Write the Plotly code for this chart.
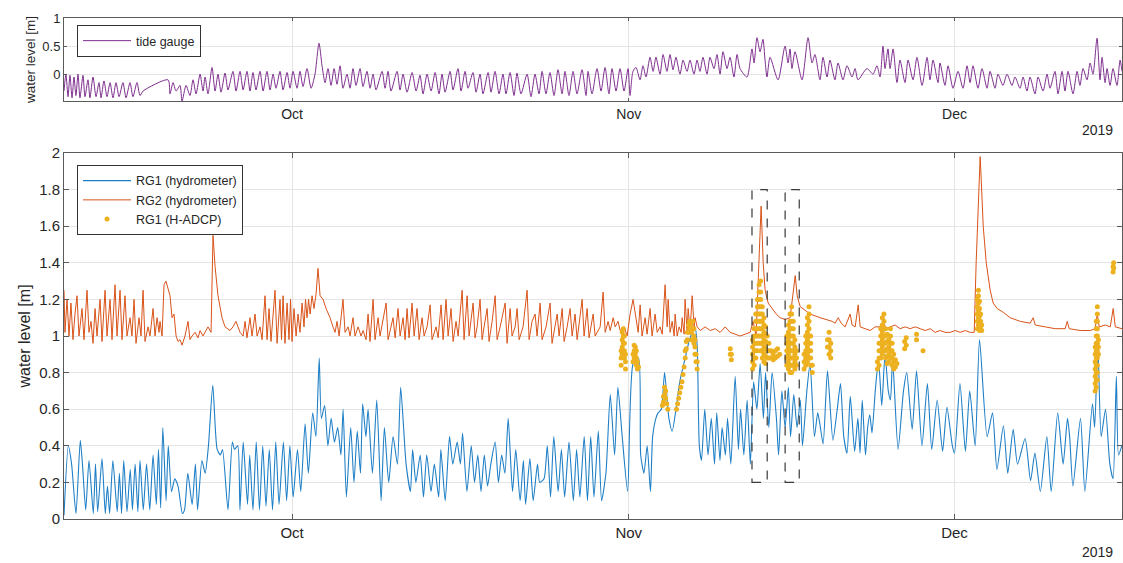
import pandas as pd
import plotly.graph_objects as go

# ---------------- data (days since 2019-09-10, water level [m]) ----------------
START = pd.Timestamp("2019-09-10")
X_END_DAY = 97.42
MONTH_TICKS = ["2019-10-01", "2019-11-01", "2019-12-01"]
MONTH_LABELS = ["Oct", "Nov", "Dec"]
TOP_YTICKS = [0, 0.5, 1]
BOT_YTICKS = [0, 0.2, 0.4, 0.6, 0.8, 1.0, 1.2, 1.4, 1.6, 1.8, 2.0]
BOT_YLABELS = ["0", "0.2", "0.4", "0.6", "0.8", "1", "1.2", "1.4", "1.6", "1.8", "2"]

tide_gauge = [
    (0.0, -0.30), (0.18, 0.00), (0.37, -0.40), (0.55, -0.02), (0.74, -0.42), (0.92, -0.05), (1.10, -0.38),
    (1.29, 0.00), (1.47, -0.42), (1.75, -0.02), (1.93, -0.40), (2.21, -0.10), (2.39, -0.42), (2.67, -0.05),
    (2.95, -0.40), (3.22, -0.15), (3.41, -0.42), (3.68, -0.12), (3.96, -0.40), (4.24, -0.15), (4.51, -0.42),
    (4.79, -0.15), (5.07, -0.40), (5.43, -0.15), (5.71, -0.42), (6.08, -0.15), (6.35, -0.40), (6.72, -0.15),
    (7.00, -0.38), (7.28, -0.30),
    (9.58, -0.10), (9.76, -0.35), (10.04, -0.15), (10.32, -0.30), (10.68, -0.20), (10.87, -0.48), (11.24, -0.20),
    (11.60, -0.38), (11.88, -0.10), (12.16, -0.35), (12.53, 0.00), (12.80, -0.30), (12.99, -0.05), (13.26, -0.35),
    (13.63, 0.12), (13.91, -0.30), (14.18, 0.00), (14.46, -0.32), (14.83, 0.02), (15.10, -0.28), (15.56, 0.05),
    (15.84, -0.30), (16.21, 0.05), (16.49, -0.28), (16.85, 0.05), (17.13, -0.30), (17.40, 0.03), (17.68, -0.28),
    (18.05, 0.05), (18.33, -0.30), (18.69, 0.05), (18.97, -0.28), (19.25, 0.00), (19.52, -0.25), (19.89, 0.05),
    (20.17, -0.28), (20.54, 0.03), (20.81, -0.25), (21.09, 0.05), (21.46, -0.25), (21.73, 0.05), (22.01, -0.22),
    (22.38, 0.10), (22.75, -0.25), (23.11, 0.00), (23.48, 0.55), (23.76, 0.15), (24.04, -0.15), (24.31, 0.10),
    (24.59, -0.20), (24.87, 0.10), (25.14, -0.18), (25.42, 0.15), (25.69, -0.25), (26.06, 0.00), (26.34, -0.25),
    (26.61, 0.10), (26.89, -0.20), (27.26, 0.10), (27.53, -0.22), (27.90, 0.05), (28.18, -0.25), (28.46, 0.00),
    (28.73, -0.28), (29.29, 0.05), (29.56, -0.25), (29.84, 0.05), (30.11, -0.30), (30.67, 0.05), (30.94, -0.28),
    (31.22, 0.00), (31.59, -0.32), (32.05, 0.03), (32.42, -0.30), (32.78, -0.02), (33.06, -0.35), (33.43, 0.00),
    (33.80, -0.30), (34.17, 0.03), (34.53, -0.35), (34.81, 0.00), (35.09, -0.32), (35.55, 0.05), (35.82, -0.28),
    (36.28, 0.10), (36.56, -0.30), (36.93, 0.05), (37.20, -0.25), (37.66, 0.03), (37.94, -0.32), (38.31, 0.00),
    (38.58, -0.35), (39.05, 0.03), (39.32, -0.32), (39.69, 0.05), (40.06, -0.35), (40.42, 0.00), (40.70, -0.35),
    (41.07, 0.03), (41.44, -0.38), (41.71, 0.02), (42.08, -0.35), (42.64, 0.00), (43.00, -0.40), (43.37, 0.00),
    (43.74, -0.35), (44.02, 0.05), (44.38, -0.35), (44.75, 0.03), (45.12, -0.38), (45.49, 0.08), (45.86, -0.35),
    (46.13, 0.05), (46.50, -0.38), (46.87, 0.05), (47.24, -0.35), (47.70, 0.08), (48.07, -0.38), (48.25, 0.05),
    (48.62, -0.35), (49.08, 0.10), (49.45, -0.30), (49.82, 0.12), (50.18, -0.35), (50.46, 0.10), (50.83, -0.30),
    (51.20, 0.10), (51.57, -0.30), (51.94, 0.10), (52.12, -0.38), (52.39, 0.05), (52.67, 0.12), (53.04, -0.10),
    (53.31, 0.15), (53.59, -0.05), (53.96, 0.30), (54.24, 0.05), (54.51, 0.30), (54.88, 0.00), (55.16, 0.35),
    (55.52, 0.05), (55.80, 0.35), (56.08, 0.08), (56.35, 0.30), (56.72, 0.00), (57.00, 0.25), (57.37, 0.05),
    (57.64, 0.25), (58.01, 0.00), (58.29, 0.25), (58.56, 0.05), (58.84, 0.30), (59.21, 0.00), (59.48, 0.30),
    (59.85, 0.10), (60.13, 0.35), (60.41, 0.00), (60.68, 0.40), (61.05, 0.10), (61.33, 0.30), (61.69, -0.05),
    (61.97, 0.35), (62.25, 0.10), (62.89, -0.05), (63.35, 0.45), (63.54, 0.20), (63.81, 0.65), (64.09, 0.40),
    (64.36, 0.62), (64.55, 0.25), (64.73, -0.05), (65.01, 0.30), (65.75, -0.10), (66.39, 0.50), (66.67, 0.20),
    (66.85, 0.45), (67.03, 0.10), (67.31, 0.40), (67.96, -0.10), (68.51, 0.65), (68.88, 0.20), (69.15, 0.35),
    (69.61, -0.10), (69.89, 0.30), (70.26, -0.05), (70.53, 0.25), (70.99, -0.10), (71.27, 0.20), (71.73, -0.10),
    (72.10, 0.15), (72.56, -0.05), (72.84, 0.10), (73.11, -0.10), (73.94, 0.10), (74.49, 0.00), (74.86, 0.15),
    (75.14, -0.05), (75.41, 0.50), (75.60, 0.10), (75.87, 0.45), (76.06, 0.10), (76.34, 0.45), (76.70, -0.15),
    (76.98, 0.25), (77.44, -0.15), (77.72, 0.25), (78.18, -0.10), (78.54, 0.30), (79.01, -0.20), (79.47, 0.30),
    (79.74, -0.10), (80.02, 0.25), (80.48, -0.15), (80.66, 0.20), (81.12, -0.20), (81.40, 0.15), (81.86, -0.25),
    (82.32, 0.05), (82.78, -0.25), (83.15, 0.15), (83.43, -0.15), (83.70, 0.15), (84.16, -0.25), (84.53, 0.10),
    (84.99, -0.25), (85.27, 0.05), (85.73, -0.25), (86.00, 0.00), (86.46, -0.20), (86.83, 0.00), (87.29, -0.20),
    (87.57, -0.05), (88.03, -0.25), (88.31, -0.05), (88.67, -0.30), (88.95, -0.05), (89.41, -0.35), (89.69, -0.05),
    (90.15, -0.30), (90.52, 0.00), (90.79, -0.25), (91.25, 0.05), (91.53, -0.35), (91.90, 0.05), (92.17, -0.30),
    (92.45, 0.05), (92.91, -0.35), (93.28, 0.05), (93.55, -0.20), (93.83, 0.10), (94.20, -0.10), (94.48, 0.20),
    (94.75, 0.00), (95.12, 0.64), (95.40, -0.10), (95.58, 0.30), (95.86, -0.15), (96.04, 0.10), (96.32, -0.20),
    (96.59, 0.10), (96.96, -0.20), (97.24, 0.25), (97.42, 0.05),
]

rg1_hydrometer = [
    (0.0, 0.02), (0.4, 0.40), (0.7, 0.30), (1.1, 0.03), (1.5, 0.43), (1.7, 0.30), (2.0, 0.05), (2.3, 0.32),
    (2.7, 0.03), (2.9, 0.30), (3.1, 0.04), (3.5, 0.33), (3.8, 0.03), (4.0, 0.18), (4.2, 0.03), (4.5, 0.32),
    (4.9, 0.04), (5.1, 0.25), (5.3, 0.03), (5.5, 0.32), (5.8, 0.04), (6.1, 0.27), (6.3, 0.05), (6.55, 0.30),
    (6.8, 0.04), (7.0, 0.32), (7.3, 0.05), (7.6, 0.30), (7.9, 0.05), (8.2, 0.35), (8.5, 0.08), (8.7, 0.38),
    (8.9, 0.06), (9.1, 0.50), (9.4, 0.10), (9.6, 0.40), (9.9, 0.15), (10.2, 0.22), (10.5, 0.18), (10.9, 0.03),
    (11.1, 0.05), (11.4, 0.25), (11.8, 0.08), (12.1, 0.30), (12.3, 0.05), (12.7, 0.32), (13.0, 0.25), (13.3, 0.40),
    (13.7, 0.73), (14.1, 0.38), (14.4, 0.35), (14.6, 0.38), (15.1, 0.05), (15.5, 0.42), (15.7, 0.38), (16.0, 0.40),
    (16.2, 0.05), (16.5, 0.42), (16.9, 0.08), (17.1, 0.35), (17.4, 0.05), (17.7, 0.42), (18.0, 0.05), (18.3, 0.40),
    (18.6, 0.07), (18.9, 0.38), (19.2, 0.05), (19.5, 0.42), (19.8, 0.08), (20.2, 0.42), (20.5, 0.10), (20.8, 0.40),
    (21.1, 0.12), (21.5, 0.38), (21.8, 0.15), (22.2, 0.52), (22.5, 0.25), (22.9, 0.58), (23.2, 0.45), (23.5, 0.88),
    (23.7, 0.55), (24.0, 0.62), (24.3, 0.40), (24.6, 0.55), (24.9, 0.42), (25.2, 0.50), (25.5, 0.35), (25.7, 0.60),
    (26.0, 0.12), (26.4, 0.50), (26.7, 0.20), (27.0, 0.48), (27.3, 0.25), (27.5, 0.63), (27.8, 0.45), (28.0, 0.60),
    (28.4, 0.25), (28.8, 0.65), (29.2, 0.10), (29.5, 0.50), (29.9, 0.20), (30.3, 0.45), (30.7, 0.30), (31.0, 0.72),
    (31.5, 0.30), (31.9, 0.15), (32.1, 0.38), (32.4, 0.20), (32.8, 0.35), (33.1, 0.12), (33.4, 0.35), (33.8, 0.15),
    (34.1, 0.30), (34.5, 0.12), (34.7, 0.38), (35.1, 0.10), (35.5, 0.45), (35.8, 0.30), (36.2, 0.42), (36.5, 0.30),
    (36.7, 0.47), (37.1, 0.15), (37.5, 0.40), (37.8, 0.20), (38.1, 0.35), (38.4, 0.15), (38.7, 0.35), (39.0, 0.18),
    (39.3, 0.30), (39.7, 0.42), (40.0, 0.20), (40.3, 0.35), (40.6, 0.25), (40.9, 0.55), (41.3, 0.15), (41.6, 0.38),
    (42.0, 0.10), (42.3, 0.32), (42.5, 0.08), (42.9, 0.33), (43.2, 0.10), (43.6, 0.30), (43.8, 0.20), (44.2, 0.22),
    (44.5, 0.40), (44.8, 0.12), (45.1, 0.45), (45.5, 0.15), (45.8, 0.38), (46.1, 0.12), (46.5, 0.42), (46.9, 0.10),
    (47.2, 0.38), (47.5, 0.12), (47.9, 0.45), (48.2, 0.10), (48.5, 0.45), (48.8, 0.12), (49.2, 0.48), (49.5, 0.10),
    (49.9, 0.25), (50.3, 0.68), (50.7, 0.35), (51.0, 0.72), (51.4, 0.45), (51.9, 0.15), (52.4, 0.85), (52.9, 0.88),
    (53.1, 0.35), (53.4, 0.25), (53.7, 0.40), (54.0, 0.15), (54.2, 0.45), (54.5, 0.55), (54.7, 0.58), (55.0, 0.60),
    (55.3, 0.80), (55.7, 0.55), (56.0, 0.48), (56.4, 0.62), (56.7, 0.75), (57.2, 0.88), (57.6, 0.98), (58.1, 1.05),
    (58.3, 0.95), (58.5, 0.40), (58.7, 0.32), (59.0, 0.60), (59.3, 0.35), (59.6, 0.55), (59.9, 0.30), (60.1, 0.58),
    (60.4, 0.32), (60.6, 0.50), (60.9, 0.35), (61.1, 0.55), (61.4, 0.30), (61.8, 0.78), (62.1, 0.38), (62.3, 0.60),
    (62.6, 0.35), (62.9, 0.65), (63.2, 0.30), (63.5, 0.75), (63.8, 0.60), (64.1, 0.85), (64.4, 0.55), (64.6, 0.80),
    (64.9, 0.50), (65.2, 0.80), (65.6, 0.55), (65.8, 0.35), (66.1, 0.70), (66.4, 0.50), (66.7, 0.72), (66.9, 0.45),
    (67.2, 0.68), (67.5, 0.50), (67.8, 0.65), (68.0, 0.40), (68.4, 0.70), (68.7, 0.85), (69.1, 0.45), (69.4, 0.58),
    (69.6, 0.52), (69.9, 0.41), (70.3, 0.81), (70.8, 0.43), (71.2, 0.60), (71.5, 0.74), (71.8, 0.45), (72.1, 0.36),
    (72.4, 0.67), (72.8, 0.37), (73.1, 0.55), (73.3, 0.36), (73.5, 0.65), (73.8, 0.35), (74.0, 0.50), (74.2, 0.57),
    (74.4, 0.47), (74.7, 0.70), (75.0, 0.87), (75.3, 0.62), (75.6, 0.90), (75.9, 0.70), (76.1, 0.65), (76.3, 0.87),
    (76.8, 0.38), (77.3, 0.70), (77.6, 0.80), (78.1, 0.49), (78.5, 0.81), (79.0, 0.40), (79.5, 0.74), (79.9, 0.38),
    (80.4, 0.65), (80.9, 0.37), (81.3, 0.61), (81.8, 0.40), (82.0, 0.36), (82.5, 0.74), (83.0, 0.37), (83.4, 0.70),
    (83.9, 0.40), (84.3, 0.98), (85.0, 0.45), (85.5, 0.58), (85.9, 0.27), (86.5, 0.51), (86.9, 0.25), (87.4, 0.49),
    (87.8, 0.30), (88.5, 0.44), (89.0, 0.21), (89.4, 0.36), (89.9, 0.15), (90.5, 0.45), (90.9, 0.15), (91.5, 0.58),
    (92.0, 0.30), (92.4, 0.55), (92.6, 0.45), (92.9, 0.18), (93.6, 0.55), (94.0, 0.15), (94.7, 0.63), (94.9, 0.50),
    (95.2, 0.95), (95.5, 0.45), (95.9, 0.60), (96.3, 0.30), (96.6, 0.22), (96.9, 0.78), (97.1, 0.35), (97.4, 0.40),
]

rg2_hydrometer = [
    (0.0, 1.25), (0.09, 1.02), (0.28, 1.20), (0.46, 1.00), (0.64, 1.18), (0.83, 0.98), (1.01, 1.12), (1.20, 1.22),
    (1.38, 1.00), (1.66, 1.15), (1.84, 0.98), (2.12, 1.25), (2.30, 1.02), (2.49, 1.08), (2.67, 0.96), (2.86, 1.15),
    (3.04, 1.00), (3.32, 1.20), (3.50, 0.97), (3.78, 1.25), (3.96, 1.00), (4.24, 1.20), (4.42, 0.98), (4.70, 1.28),
    (4.88, 1.00), (5.16, 1.25), (5.34, 0.98), (5.62, 1.22), (5.80, 1.00), (6.08, 1.10), (6.26, 1.00), (6.45, 1.20),
    (6.63, 0.96), (6.91, 1.10), (7.09, 1.00), (7.28, 1.25), (7.46, 0.97), (7.74, 1.05), (7.92, 1.00), (8.20, 1.15),
    (8.38, 1.00), (8.57, 1.10), (8.75, 1.02), (8.84, 1.08), (9.03, 1.00), (9.21, 1.28), (9.39, 1.30), (9.58, 1.25),
    (9.76, 1.22), (9.95, 1.10), (10.13, 1.12), (10.32, 1.00), (10.50, 0.97), (10.68, 0.98), (10.87, 0.95),
    (11.14, 1.00), (11.42, 1.08), (11.60, 0.98), (11.79, 1.00), (12.07, 1.02), (12.34, 0.99), (12.53, 1.03),
    (12.80, 1.00), (13.26, 1.05), (13.54, 1.02), (13.72, 1.55), (13.91, 1.38), (14.18, 1.22), (14.55, 1.10),
    (14.83, 1.05), (15.29, 1.03), (15.56, 1.05), (15.84, 1.08), (16.21, 1.02), (16.49, 1.00), (16.67, 1.08),
    (16.85, 0.99), (17.13, 1.10), (17.31, 1.00), (17.59, 1.12), (17.78, 1.00), (18.05, 1.05), (18.24, 0.98),
    (18.51, 1.22), (18.70, 0.98), (18.88, 1.15), (19.06, 0.97), (19.43, 1.25), (19.62, 0.96), (19.89, 1.20),
    (20.03, 0.98), (20.17, 1.22), (20.35, 0.96), (20.54, 1.18), (20.72, 0.98), (20.86, 1.20), (21.00, 0.97),
    (21.18, 1.15), (21.37, 1.00), (21.55, 1.12), (21.73, 1.02), (21.92, 1.18), (22.10, 1.05), (22.24, 1.20),
    (22.38, 1.10), (22.52, 1.20), (22.66, 1.12), (22.84, 1.22), (23.02, 1.15), (23.21, 1.23), (23.39, 1.37),
    (23.58, 1.22), (23.85, 1.20), (24.13, 1.15), (24.50, 1.10), (24.77, 1.05), (24.96, 1.02), (25.14, 1.08),
    (25.33, 1.00), (25.69, 1.20), (25.88, 1.02), (26.16, 1.05), (26.34, 1.00), (26.61, 1.10), (26.80, 1.00),
    (27.08, 1.05), (27.35, 1.00), (27.54, 1.03), (27.81, 0.98), (28.00, 1.12), (28.18, 0.97), (28.46, 1.20),
    (28.64, 0.98), (28.92, 1.10), (29.10, 1.00), (29.66, 1.18), (29.84, 0.98), (30.30, 1.10), (30.49, 0.99),
    (30.76, 1.15), (30.95, 1.00), (31.22, 1.10), (31.41, 0.98), (31.59, 1.15), (31.77, 0.99), (32.05, 1.18),
    (32.24, 1.00), (32.51, 1.15), (32.70, 0.98), (32.97, 1.10), (33.16, 1.00), (33.43, 1.05), (33.71, 1.17),
    (33.89, 0.98), (34.26, 1.05), (34.45, 0.99), (34.72, 1.17), (34.91, 0.98), (35.18, 1.20), (35.37, 1.00),
    (35.64, 1.15), (35.83, 0.97), (36.10, 1.08), (36.29, 1.00), (36.66, 1.25), (36.84, 0.98), (37.12, 1.22),
    (37.30, 1.00), (37.67, 1.18), (37.85, 0.99), (38.04, 1.05), (38.31, 1.20), (38.50, 0.98), (38.68, 1.05),
    (38.96, 1.15), (39.14, 0.97), (39.42, 1.08), (39.70, 1.22), (39.88, 0.98), (40.16, 1.05), (40.62, 1.18),
    (40.80, 0.96), (41.08, 1.15), (41.26, 1.00), (41.54, 1.05), (41.72, 1.15), (41.91, 0.98), (42.27, 1.05),
    (42.64, 1.25), (42.83, 0.98), (43.10, 1.08), (43.38, 1.12), (43.56, 1.00), (43.84, 1.18), (44.02, 0.98),
    (44.39, 1.05), (44.76, 1.18), (44.94, 0.96), (45.22, 1.05), (45.41, 1.12), (45.59, 1.00), (45.87, 1.15),
    (46.05, 0.97), (46.33, 1.05), (46.60, 1.15), (46.79, 1.00), (47.06, 1.12), (47.25, 0.98), (47.71, 1.20),
    (47.89, 1.00), (48.17, 1.15), (48.35, 0.99), (48.72, 1.12), (48.91, 1.00), (49.37, 1.05), (49.64, 1.24),
    (49.83, 1.02), (50.10, 1.08), (50.29, 1.03), (50.57, 1.10), (50.75, 1.05), (51.02, 1.08), (51.21, 1.03),
    (51.58, 1.05), (51.85, 1.00), (52.13, 1.12), (52.40, 1.20), (52.68, 1.08), (52.87, 1.02), (53.05, 1.17),
    (53.23, 1.00), (53.51, 1.10), (53.69, 1.01), (53.97, 1.15), (54.15, 1.00), (54.43, 1.12), (54.62, 1.02),
    (54.89, 1.05), (55.08, 1.01), (55.35, 1.28), (55.54, 1.05), (55.63, 1.20), (55.81, 1.02), (56.00, 1.08),
    (56.18, 1.00), (56.27, 1.12), (56.46, 1.00), (56.64, 1.05), (56.83, 1.02), (56.92, 1.10), (57.10, 1.01),
    (57.19, 1.20), (57.38, 1.02), (57.47, 1.15), (57.65, 1.03), (57.84, 1.22), (58.02, 1.05), (58.11, 1.10),
    (58.30, 1.05), (58.58, 1.03), (59.04, 1.05), (59.50, 1.03), (59.96, 1.04), (60.42, 1.02), (60.88, 1.05),
    (61.34, 1.02), (61.80, 1.01), (62.26, 1.00), (62.72, 1.01), (63.18, 1.02), (63.46, 1.08), (63.73, 1.00),
    (63.92, 1.30), (64.19, 1.71), (64.38, 1.40), (64.56, 1.25), (64.84, 1.18), (65.21, 1.15), (65.58, 1.12),
    (65.94, 1.10), (66.40, 1.09), (66.86, 1.10), (67.14, 1.25), (67.33, 1.33), (67.51, 1.22), (67.79, 1.16),
    (68.25, 1.14), (68.71, 1.12), (69.63, 1.10), (70.27, 1.09), (70.73, 1.08), (71.01, 1.07), (71.29, 1.10),
    (71.56, 1.07), (71.93, 1.05), (72.39, 1.12), (72.57, 1.06), (72.85, 1.05), (73.13, 1.17), (73.31, 1.05),
    (73.77, 1.04), (74.23, 1.03), (74.69, 1.05), (75.15, 1.05), (75.43, 1.08), (75.70, 1.04), (76.07, 1.05),
    (76.53, 1.06), (76.99, 1.04), (77.45, 1.05), (77.92, 1.04), (78.38, 1.05), (78.84, 1.04), (79.30, 1.03),
    (79.76, 1.04), (80.22, 1.02), (80.68, 1.03), (81.14, 1.02), (81.60, 1.02), (82.06, 1.03), (82.52, 1.02),
    (82.98, 1.03), (83.44, 1.02), (83.81, 1.02), (83.99, 1.40), (84.18, 1.75), (84.36, 1.98), (84.46, 1.85),
    (84.64, 1.60), (84.92, 1.40), (85.10, 1.32), (85.28, 1.25), (85.56, 1.18), (85.93, 1.15), (86.48, 1.13),
    (87.12, 1.10), (88.05, 1.08), (88.97, 1.07), (89.24, 1.10), (89.43, 1.06), (90.35, 1.05), (91.27, 1.04),
    (92.19, 1.04), (92.38, 1.08), (92.56, 1.04), (93.57, 1.03), (94.49, 1.03), (94.95, 1.04), (95.14, 1.12),
    (95.32, 1.05), (95.88, 1.06), (96.34, 1.05), (96.61, 1.15), (96.80, 1.05), (97.42, 1.04),
]

# H-ADCP samples: (day, [levels observed at that time])
rg1_hadcp = [
    (51.3, [0.84, 0.88, 0.92]), (51.4, [0.90, 0.94, 0.98, 1.02]), (51.5, [0.96, 1.00, 1.04]),
    (51.6, [0.88, 0.92, 0.96, 1.00]), (51.7, [0.82, 0.86, 0.90]),
    (52.4, [0.86, 0.90]), (52.5, [0.88, 0.92, 0.95]), (52.6, [0.86, 0.90, 0.94]), (52.7, [0.84, 0.88, 0.92]),
    (52.8, [0.82, 0.86]), (52.9, [0.83]),
    (55.1, [0.62]), (55.2, [0.64, 0.67]), (55.3, [0.68, 0.72]), (55.4, [0.66, 0.70]), (55.5, [0.63]), (55.6, [0.60]),
    (56.4, [0.60]), (56.5, [0.63]), (56.6, [0.66]), (56.7, [0.69]), (56.8, [0.72]), (56.9, [0.75]), (57.0, [0.79]),
    (57.1, [0.83]), (57.2, [0.88, 0.92]), (57.3, [0.93, 0.97]), (57.4, [0.98, 1.02]), (57.5, [1.02, 1.06]),
    (57.6, [1.04, 1.08]), (57.7, [1.02, 1.06]), (57.8, [0.98, 1.02]), (57.9, [1.04, 1.08]), (58.0, [0.96, 1.00, 1.04]),
    (58.1, [0.90, 0.94, 0.98]), (58.2, [0.86, 0.90]), (58.3, [0.82, 0.86]),
    (61.35, [0.90, 0.93]), (61.45, [0.87, 0.90]),
    (63.4, [0.82, 0.86, 0.90, 0.94, 0.98]), (63.55, [0.84, 0.88, 0.92, 0.96, 1.00, 1.04]),
    (63.7, [0.88, 0.92, 0.96, 1.00, 1.04, 1.08, 1.12]), (63.85, [0.92, 0.96, 1.00, 1.04, 1.08, 1.12, 1.16, 1.20]),
    (64.0, [0.96, 1.00, 1.04, 1.08, 1.12, 1.16, 1.20, 1.24, 1.28]),
    (64.15, [0.92, 0.96, 1.00, 1.04, 1.08, 1.12, 1.16, 1.20, 1.24, 1.30]),
    (64.3, [0.88, 0.92, 0.96, 1.00, 1.04, 1.08, 1.12, 1.16]), (64.45, [0.86, 0.90, 0.94, 0.98, 1.02, 1.06, 1.10]),
    (64.6, [0.85, 0.89, 0.93, 0.97, 1.01, 1.05]), (64.75, [0.88, 0.92, 0.96, 1.00]), (64.9, [0.88, 0.92, 0.96]),
    (65.1, [0.88, 0.92]), (65.3, [0.87, 0.90]), (65.5, [0.88, 0.92]), (65.7, [0.89, 0.93]), (65.9, [0.90]),
    (66.55, [0.84, 0.88, 0.92, 0.96, 1.00]), (66.7, [0.82, 0.86, 0.90, 0.94, 0.98, 1.02, 1.06]),
    (66.85, [0.80, 0.84, 0.88, 0.92, 0.96, 1.00, 1.04, 1.08, 1.12]),
    (67.0, [0.80, 0.84, 0.88, 0.92, 0.96, 1.00, 1.04, 1.08, 1.12, 1.16]),
    (67.15, [0.84, 0.88, 0.92, 0.96, 1.00, 1.04, 1.08]), (67.3, [0.82, 0.86, 0.90, 0.94, 0.98]),
    (67.45, [0.84, 0.88, 0.92]),
    (68.15, [0.82, 0.86, 0.90]), (68.3, [0.84, 0.88, 0.92, 0.96, 1.00]),
    (68.45, [0.86, 0.90, 0.94, 0.98, 1.02, 1.06, 1.10]), (68.6, [0.88, 0.92, 0.96, 1.00, 1.04, 1.08, 1.12, 1.16]),
    (68.75, [0.84, 0.88, 0.92, 0.96, 1.00]), (68.9, [0.80, 0.84]),
    (70.3, [0.94, 0.98]), (70.45, [0.90, 0.94, 0.98, 1.02]), (70.6, [0.88, 0.92, 0.96]),
    (74.9, [0.82, 0.86]), (75.05, [0.84, 0.88, 0.92, 0.96]), (75.2, [0.88, 0.92, 0.96, 1.00, 1.04]),
    (75.35, [0.90, 0.94, 0.98, 1.02, 1.06, 1.10]), (75.5, [0.92, 0.96, 1.00, 1.04, 1.08, 1.12]),
    (75.65, [0.88, 0.92, 0.96, 1.00, 1.04]), (75.8, [0.85, 0.89, 0.93, 0.97, 1.01]), (75.95, [0.86, 0.90, 0.94, 0.98]),
    (76.1, [0.88, 0.92, 0.96, 1.00, 1.04]), (76.25, [0.84, 0.88, 0.92, 0.96]), (76.4, [0.82, 0.86, 0.90]),
    (76.55, [0.83, 0.87]), (76.7, [0.85]),
    (77.4, [0.93, 0.97]), (77.55, [0.95, 0.99]), (78.5, [0.98, 1.01]), (79.1, [0.92]),
    (84.1, [1.04, 1.08, 1.12, 1.16, 1.20]), (84.2, [1.06, 1.10, 1.14, 1.18, 1.22, 1.25]),
    (84.3, [1.03, 1.07, 1.11, 1.15, 1.19]), (84.4, [1.04, 1.08, 1.12]), (84.5, [1.03, 1.06]),
    (94.95, [0.70, 0.74, 0.78, 0.82, 0.86, 0.90, 0.94]),
    (95.05, [0.72, 0.76, 0.80, 0.84, 0.88, 0.92, 0.96, 1.00, 1.04, 1.08]),
    (95.15, [0.76, 0.80, 0.84, 0.88, 0.92, 0.96, 1.00, 1.04, 1.08, 1.12, 1.16]),
    (95.25, [0.90, 0.94, 0.98]), (96.6, [1.35, 1.38]), (96.65, [1.37, 1.40]),
]

# highlighted periods (dashed boxes): day ranges and level range
box_days = [(63.35, 64.75), (66.40, 67.70)]
box_levels = (0.2, 1.8)

# ---------------- helpers ----------------
def dates(days):
    return [START + pd.Timedelta(days=d) for d in days]

def split(pairs):
    return dates([p[0] for p in pairs]), [p[1] for p in pairs]

C_BLUE = "#1f7fc6"
C_ORANGE = "#D95319"
C_YELLOW = "#EDB120"
C_PURPLE = "#7E2F8E"
AX = "#5a5a5a"
GRID = "#e4e4e4"
TXT = "#262626"
FONT = "Liberation Sans, Arial, Helvetica, sans-serif"

fig = go.Figure()

tx, ty = split(tide_gauge)
fig.add_trace(go.Scatter(x=tx, y=ty, mode="lines", name="tide gauge",
                         line=dict(color=C_PURPLE, width=1, shape="spline", smoothing=0.7),
                         xaxis="x", yaxis="y", legend="legend2"))

bx, by = split(rg1_hydrometer)
fig.add_trace(go.Scatter(x=bx, y=by, mode="lines", name="RG1 (hydrometer)",
                         line=dict(color=C_BLUE, width=1.1, shape="spline", smoothing=0.6),
                         xaxis="x2", yaxis="y2"))

ox, oy = split(rg2_hydrometer)
fig.add_trace(go.Scatter(x=ox, y=oy, mode="lines", name="RG2 (hydrometer)",
                         line=dict(color=C_ORANGE, width=1), xaxis="x2", yaxis="y2"))

ad_days, ad_lv = [], []
for d, levels in rg1_hadcp:
    for lv in levels:
        ad_days.append(d)
        ad_lv.append(lv)
fig.add_trace(go.Scatter(x=dates(ad_days), y=ad_lv, mode="markers", name="RG1 (H-ADCP)",
                         marker=dict(color=C_YELLOW, size=5, line=dict(width=0)),
                         xaxis="x2", yaxis="y2"))

for d0, d1 in box_days:
    fig.add_shape(type="rect", xref="x2", yref="y2",
                  x0=START + pd.Timedelta(days=d0), x1=START + pd.Timedelta(days=d1),
                  y0=box_levels[0], y1=box_levels[1],
                  line=dict(color="#3a3a3a", width=1.2, dash="dash"), fillcolor="rgba(0,0,0,0)")

xr = [START, START + pd.Timedelta(days=X_END_DAY)]
common_x = dict(range=xr, tickvals=MONTH_TICKS, ticktext=MONTH_LABELS, showgrid=True, gridcolor=GRID,
                gridwidth=1, showline=True, linecolor=AX, linewidth=1, mirror="ticks", ticks="inside",
                tickcolor=AX, zeroline=False, automargin=False)
common_y = dict(showgrid=True, gridcolor=GRID, gridwidth=1, showline=True, linecolor=AX, linewidth=1,
                mirror="ticks", ticks="inside", tickcolor=AX, zeroline=False, automargin=False)

fig.update_layout(
    width=1123, height=563,
    margin=dict(l=64, r=1, t=18, b=44),
    paper_bgcolor="white", plot_bgcolor="white",
    font=dict(family=FONT, color=TXT),
    xaxis=dict(domain=[0, 1], anchor="y", ticklen=3, tickfont=dict(size=14, color=TXT, family=FONT), **common_x),
    yaxis=dict(domain=[0.834, 1.0], anchor="x", range=[-0.48, 1], tickvals=TOP_YTICKS,
               ticktext=["0", "0.5", "1"], ticklen=3, tickfont=dict(size=13, color=TXT, family=FONT),
               title=dict(text="water level [m]", font=dict(size=13.5, color=TXT), standoff=3), **common_y),
    xaxis2=dict(domain=[0, 1], anchor="y2", ticklen=5, tickfont=dict(size=15, color=TXT, family=FONT), **common_x),
    yaxis2=dict(domain=[0, 0.7305], anchor="x2", range=[0, 2], tickvals=BOT_YTICKS, ticktext=BOT_YLABELS,
                ticklen=5, tickfont=dict(size=15, color=TXT, family=FONT),
                title=dict(text="water level [m]", font=dict(size=16, color=TXT), standoff=4),
                **common_y),
    legend=dict(x=0.0123, y=0.7066, xanchor="left", yanchor="top", bgcolor="white",
                bordercolor="#333333", borderwidth=1, font=dict(size=12.5, color=TXT, family=FONT),
                tracegroupgap=0, itemwidth=48),
    legend2=dict(x=0.0123, y=0.986, xanchor="left", yanchor="top", bgcolor="white",
                 bordercolor="#333333", borderwidth=1, font=dict(size=12.5, color=TXT, family=FONT),
                 itemwidth=48),
    showlegend=True,
    annotations=[
        dict(text="2019", xref="paper", yref="paper", x=0.993, y=0.776, xanchor="right", yanchor="middle",
             showarrow=False, font=dict(size=14, color=TXT, family=FONT)),
        dict(text="2019", xref="paper", yref="paper", x=0.993, y=-0.066, xanchor="right", yanchor="middle",
             showarrow=False, font=dict(size=14, color=TXT, family=FONT)),
    ],
)

fig.write_html("out.html", config={"displayModeBar": False},
               post_script="document.body.style.margin='0';document.body.style.overflow='hidden';")
